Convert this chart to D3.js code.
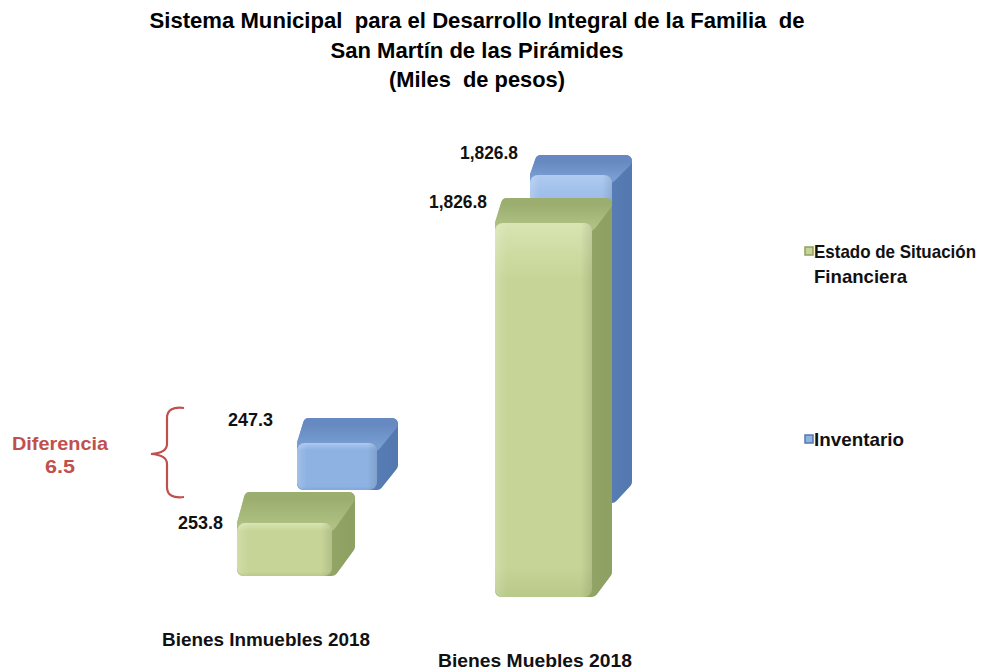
<!DOCTYPE html>
<html>
<head>
<meta charset="utf-8">
<script src="https://cdn.jsdelivr.net/npm/d3@7"></script>
<style>
  html, body { margin: 0; padding: 0; background: #fff; }
  svg { display: block; }
</style>
</head>
<body>
<svg id="chart" width="1000" height="669"></svg>
<script>
// ---------------- DATA ----------------
const titleLines = [
  "Sistema Municipal  para el Desarrollo Integral de la Familia  de",
  "San Martín de las Pirámides",
  "(Miles  de pesos)"
];
const categories = ["Bienes Inmuebles 2018", "Bienes Muebles 2018"];
const seriesNames = ["Estado de Situación Financiera", "Inventario"];
const estadoValues = [253.8, 1826.8];
const inventarioValues = [247.3, 1826.8];
const diferenciaLabel = ["Diferencia", "6.5"];

// ---------------- LAYOUT ----------------
const svg = d3.select("#chart");
const fmt = d3.format(",.1f");
const font = "'Liberation Sans', Arial, sans-serif";

const series = [
  {
    name: seriesNames[0], values: estadoValues,
    x: d3.scalePoint().domain(categories).range([237, 495]),
    base: d3.scalePoint().domain(categories).range([576, 597]),
    h: d3.scaleLinear().domain([-165, 1826.8]).range([0, 399]),
    frontW: [95, 97], side: [23, 20], depth: [31, 25], skew: [7, 6],
    c: { front: "#c6d597", frontTop: "#d3e0aa", frontBot: "#b9c98a",
         top1: "#9bad6f", top2: "#afc083", hl: "#d9e5b3",
         side1: "#a9bb7b", side2: "#8ea062" },
    label: { dx: [-14, -8], dy: [31, 4] }
  },
  {
    name: seriesNames[1], values: inventarioValues,
    x: d3.scalePoint().domain(categories).range([297, 530]),
    base: d3.scalePoint().domain(categories).range([490, 503]),
    h: d3.scaleLinear().domain([-165, 1826.8]).range([0, 348]),
    frontW: [80, 82], side: [21, 20], depth: [25, 20], skew: [6, 5],
    c: { front: "#8eb2e2", frontTop: "#a3c2ec", frontBot: "#82a7d8",
         top1: "#6589c0", top2: "#789dd1", hl: "#b0cbf0",
         side1: "#6d93c9", side2: "#5478b0" },
    label: { dx: [-24, -12], dy: [2, -2] }
  }
];

const defs = svg.append("defs");
series.forEach((s, i) => {
  const f = defs.append("linearGradient").attr("id", "front" + i)
    .attr("x1", 0).attr("y1", 0).attr("x2", 0).attr("y2", 1);
  f.append("stop").attr("offset", "0%").attr("stop-color", s.c.hl);
  f.append("stop").attr("offset", "4%").attr("stop-color", s.c.frontTop);
  f.append("stop").attr("offset", "15%").attr("stop-color", s.c.front);
  f.append("stop").attr("offset", "92%").attr("stop-color", s.c.front);
  f.append("stop").attr("offset", "100%").attr("stop-color", s.c.frontBot);
  const fh = defs.append("linearGradient").attr("id", "fronth" + i)
    .attr("x1", 0).attr("y1", 0).attr("x2", 1).attr("y2", 0);
  fh.append("stop").attr("offset", "0%").attr("stop-color", "#fff").attr("stop-opacity", 0.18);
  fh.append("stop").attr("offset", "12%").attr("stop-color", "#fff").attr("stop-opacity", 0);
  fh.append("stop").attr("offset", "88%").attr("stop-color", "#000").attr("stop-opacity", 0);
  fh.append("stop").attr("offset", "100%").attr("stop-color", "#000").attr("stop-opacity", 0.10);
  const t = defs.append("linearGradient").attr("id", "top" + i)
    .attr("x1", 0).attr("y1", 0).attr("x2", 0).attr("y2", 1);
  t.append("stop").attr("offset", "0%").attr("stop-color", s.c.top1);
  t.append("stop").attr("offset", "100%").attr("stop-color", s.c.top2);
  const sd = defs.append("linearGradient").attr("id", "side" + i)
    .attr("x1", 0).attr("y1", 0).attr("x2", 1).attr("y2", 0);
  sd.append("stop").attr("offset", "0%").attr("stop-color", s.c.side1);
  sd.append("stop").attr("offset", "100%").attr("stop-color", s.c.side2);
});

function barGeom(s, ci) {
  const cat = categories[ci];
  const v = s.values[ci];
  const xl = s.x(cat);
  const base = s.base(cat);
  const xr = xl + s.frontW[ci];
  const yBackTop = base - s.h(v);
  return { xl, xr, base, sideW: s.side[ci], depth: s.depth[ci],
           yBackTop, yFrontTop: yBackTop + s.depth[ci], skew: s.skew[ci], v };
}

const line = d3.line();
const R = 6;
[1, 0].forEach(si => {
  const s = series[si];
  const gS = svg.append("g").attr("class", "series-" + si);
  categories.forEach((cat, ci) => {
    const g = barGeom(s, ci);
    const bar = gS.append("g");
    // silhouette (side face colour), rounded via stroke join, inset by R
    const sil = [
      [g.xl + R, g.base - R],
      [g.xl + R, g.yFrontTop],
      [g.xl + g.skew + R, g.yBackTop + R],
      [g.xr + g.sideW - R, g.yBackTop + R],
      [g.xr + g.sideW - R, g.base - g.depth * 0.75 - R],
      [g.xr, g.base - R]
    ];
    bar.append("path").attr("d", line(sil) + "Z")
      .attr("fill", `url(#side${si})`).attr("stroke", `url(#side${si})`)
      .attr("stroke-width", R * 2).attr("stroke-linejoin", "round");
    // top face
    const top = [
      [g.xl + R, g.yFrontTop + 2],
      [g.xl + g.skew + R, g.yBackTop + R],
      [g.xr + g.sideW - R, g.yBackTop + R],
      [g.xr - 2, g.yFrontTop + 2]
    ];
    bar.append("path").attr("d", line(top) + "Z")
      .attr("fill", `url(#top${si})`).attr("stroke", `url(#top${si})`)
      .attr("stroke-width", R * 2).attr("stroke-linejoin", "round");
    // front face
    bar.append("rect")
      .attr("x", g.xl).attr("y", g.yFrontTop)
      .attr("width", g.xr - g.xl).attr("height", g.base - g.yFrontTop)
      .attr("rx", 8).attr("ry", 8)
      .attr("fill", `url(#front${si})`);
    bar.append("rect")
      .attr("x", g.xl).attr("y", g.yFrontTop)
      .attr("width", g.xr - g.xl).attr("height", g.base - g.yFrontTop)
      .attr("rx", 8).attr("ry", 8)
      .attr("fill", `url(#fronth${si})`);
  });
});

// value labels
series.forEach((s, si) => {
  categories.forEach((cat, ci) => {
    const g = barGeom(s, ci);
    svg.append("text")
      .attr("x", g.xl + s.label.dx[ci])
      .attr("y", g.yBackTop + s.label.dy[ci])
      .attr("text-anchor", "end").attr("dominant-baseline", "central")
      .attr("font-family", font).attr("font-weight", "bold")
      .attr("font-size", 18).attr("fill", "#111")
      .attr("textLength", fmt(g.v).length > 5 ? 58 : 45).attr("lengthAdjust", "spacingAndGlyphs")
      .text(fmt(g.v));
  });
});

// title
const titleY = [20, 50, 79];
const titleW = [655, 293, 176];
titleLines.forEach((t, i) => {
  svg.append("text")
    .attr("x", 477).attr("y", titleY[i])
    .attr("text-anchor", "middle").attr("dominant-baseline", "central")
    .attr("font-family", font).attr("font-weight", "bold")
    .attr("font-size", 22).attr("fill", "#000")
    .attr("textLength", titleW[i]).attr("lengthAdjust", "spacingAndGlyphs")
    .style("white-space", "pre")
    .text(t);
});

// category labels (staggered as in the original)
const catY = [639, 660];
const catX = [266, 535];
const catW = [208, 194];
categories.forEach((c, i) => {
  svg.append("text")
    .attr("x", catX[i]).attr("y", catY[i])
    .attr("text-anchor", "middle").attr("dominant-baseline", "central")
    .attr("font-family", font).attr("font-weight", "bold")
    .attr("font-size", 19).attr("fill", "#111")
    .attr("textLength", catW[i]).attr("lengthAdjust", "spacingAndGlyphs")
    .text(c);
});

// legend
const legend = svg.append("g").attr("class", "legend");
const legendItems = [
  { lines: ["Estado de Situación", "Financiera"], widths: [162, 93], s: series[0], y: 251 },
  { lines: ["Inventario"], widths: [90], s: series[1], y: 439 }
];
legendItems.forEach(it => {
  legend.append("rect").attr("x", 805).attr("y", it.y - 4).attr("width", 8).attr("height", 8)
    .attr("fill", it.s.c.front).attr("stroke", it.s.c.side2).attr("stroke-width", 1.5);
  it.lines.forEach((l, j) => {
    legend.append("text")
      .attr("x", 814).attr("y", it.y + j * 25)
      .attr("dominant-baseline", "central")
      .attr("font-family", font).attr("font-weight", "bold")
      .attr("font-size", 19).attr("fill", "#111")
      .attr("textLength", it.widths[j]).attr("lengthAdjust", "spacingAndGlyphs")
      .text(l);
  });
});

// difference annotation
const red = "#c0504d";
const brace = d3.path();
brace.moveTo(184, 408);
brace.quadraticCurveTo(167, 406, 167, 418);
brace.lineTo(167, 444);
brace.quadraticCurveTo(167, 453, 151, 454);
brace.quadraticCurveTo(167, 455, 167, 464);
brace.lineTo(167, 487);
brace.quadraticCurveTo(167, 499, 184, 497);
svg.append("path").attr("d", brace.toString())
  .attr("fill", "none").attr("stroke", red).attr("stroke-width", 2.2);
diferenciaLabel.forEach((t, i) => {
  svg.append("text")
    .attr("x", 60).attr("y", 443 + i * 23)
    .attr("text-anchor", "middle").attr("dominant-baseline", "central")
    .attr("font-family", font).attr("font-weight", "bold")
    .attr("font-size", 19).attr("fill", red)
    .attr("textLength", i === 0 ? 96 : 30).attr("lengthAdjust", "spacingAndGlyphs")
    .text(t);
});
</script>
</body>
</html>
